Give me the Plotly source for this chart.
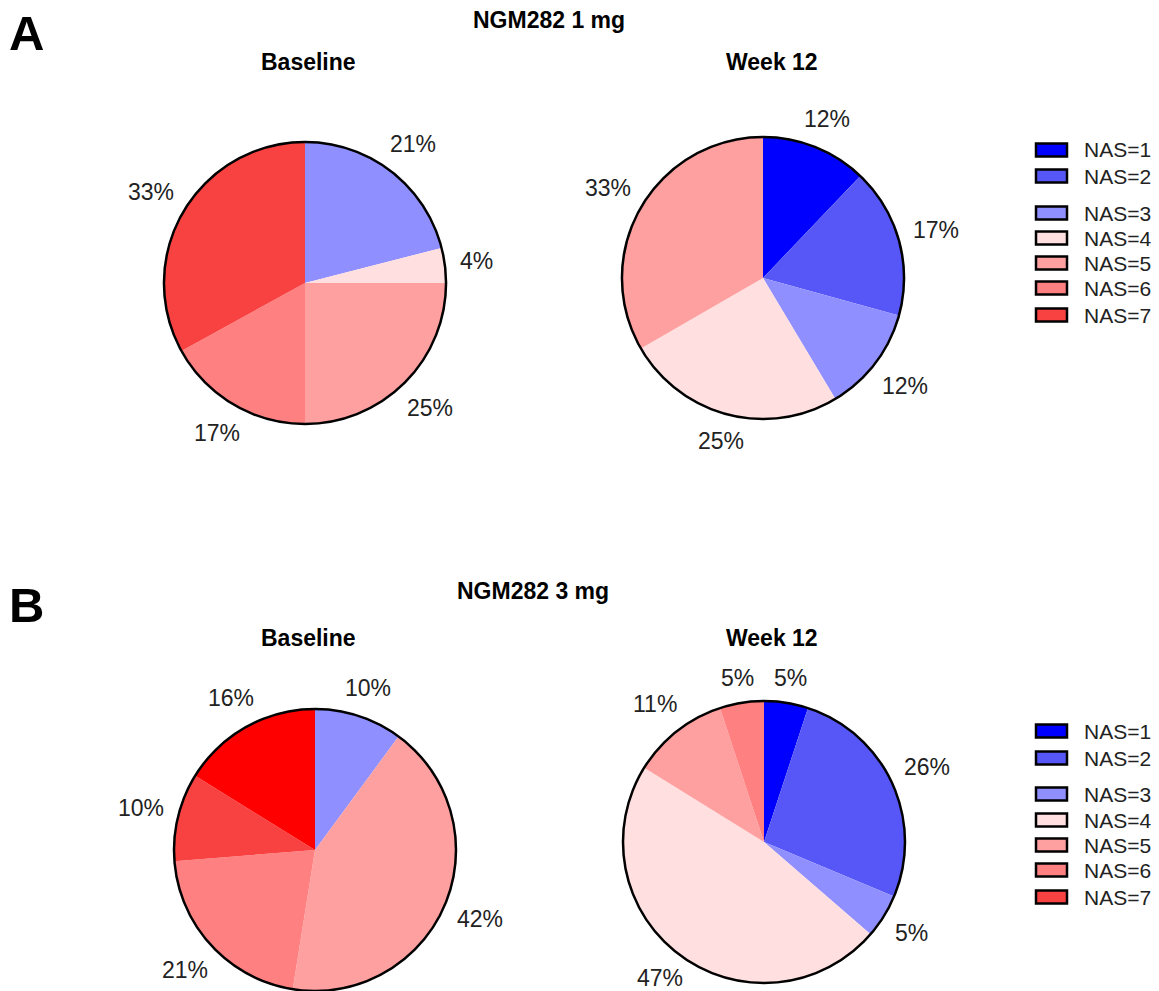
import math
import plotly.graph_objects as go

# NAS score categories and their fill colours
nas_labels = ["NAS=1", "NAS=2", "NAS=3", "NAS=4", "NAS=5", "NAS=6", "NAS=7"]
nas_colors = ["#0000FF", "#5757F8", "#8F8FFF", "#FFDFDF", "#FFA0A0", "#FF8080", "#F84242"]
extra_label = "NAS=8"
extra_color = "#FF0000"
color_of = dict(zip(nas_labels + [extra_label], nas_colors + [extra_color]))

# Distribution of NAS scores (% of patients)
mg1_base_labels = ["NAS=3", "NAS=4", "NAS=5", "NAS=6", "NAS=7"]
mg1_base_pct = [21, 4, 25, 17, 33]

mg1_wk12_labels = ["NAS=1", "NAS=2", "NAS=3", "NAS=4", "NAS=5"]
mg1_wk12_pct = [12, 17, 12, 25, 33]

mg3_base_labels = ["NAS=3", "NAS=5", "NAS=6", "NAS=7", "NAS=8"]
mg3_base_pct = [10, 42, 21, 10, 16]

mg3_wk12_labels = ["NAS=1", "NAS=2", "NAS=3", "NAS=4", "NAS=5", "NAS=6"]
mg3_wk12_pct = [5, 26, 5, 47, 11, 5]

W, H = 1159, 991
FONT = "Liberation Sans, Arial, sans-serif"
LABEL_SIZE = 23


def px_domain(x0, x1, y0, y1):
    """Convert a pixel box (top-left origin) into paper domain fractions."""
    return dict(x=[x0 / W, x1 / W], y=[max(0.0, 1 - y1 / H), 1 - y0 / H])


# pixel boxes holding each pie
panels = [
    (mg1_base_labels, mg1_base_pct, (164, 446, 142, 424)),
    (mg1_wk12_labels, mg1_wk12_pct, (622, 904, 137, 419)),
    (mg3_base_labels, mg3_base_pct, (173, 457, 709, 991)),
    (mg3_wk12_labels, mg3_wk12_pct, (623, 905, 701, 983)),
]

fig = go.Figure()
annotations = []

for labels, pct, box in panels:
    dom = px_domain(*box)
    fig.add_trace(go.Pie(
        labels=labels, values=pct, domain=dom,
        sort=False, direction="clockwise", rotation=0,
        marker=dict(colors=[color_of[l] for l in labels], line=dict(width=0)),
        textinfo="none", showlegend=False, hoverinfo="label+value",
    ))
    # outer rim of the pie
    fig.add_trace(go.Pie(
        values=[1], domain=dom, sort=False,
        marker=dict(colors=["rgba(0,0,0,0)"], line=dict(width=2.5, color="black")),
        textinfo="none", hoverinfo="skip", showlegend=False,
    ))

    # percentage labels set just outside the rim at each slice's mid-angle
    x0, x1, y0, y1 = box
    cx, cy = (x0 + x1) / 2, (y0 + y1) / 2
    r = min(x1 - x0, y1 - y0) / 2
    total = sum(pct)
    cum = 0.0
    for v in pct:
        theta = 2 * math.pi * (cum + v / 2) / total
        cum += v
        dx, dy = math.sin(theta), -math.cos(theta)
        txt = f"{v}%"
        half_w = LABEL_SIZE * (0.556 * (len(txt) - 1) + 0.889) / 2
        half_h = LABEL_SIZE * 0.36
        dist = r + 14 + half_w * abs(dx) + half_h * abs(dy)
        ly = min(cy + dist * dy, H - 13)  # keep bottom labels inside the page
        annotations.append(dict(
            x=(cx + dist * dx) / W, y=1 - ly / H,
            xref="paper", yref="paper", text=txt, showarrow=False,
            xanchor="center", yanchor="middle",
            font=dict(family=FONT, size=LABEL_SIZE, color="#222222"),
        ))


def add_text(x, y, text, size, bold=True, xanchor="center"):
    annotations.append(dict(
        x=x / W, y=1 - y / H, xref="paper", yref="paper", text=f"<b>{text}</b>" if bold else text,
        showarrow=False, xanchor=xanchor, yanchor="middle",
        font=dict(family=FONT, size=size, color="black"),
    ))


# panel letters and titles
add_text(26, 33, "A", 49)
add_text(549, 20, "NGM282 1 mg", 23)
add_text(308, 62, "Baseline", 23)
add_text(772, 62, "Week 12", 23)

add_text(26, 605, "B", 49)
add_text(533, 591, "NGM282 3 mg", 23)
add_text(308, 638, "Baseline", 23)
add_text(772, 638, "Week 12", 23)

# legends (one per panel row)
shapes = []
legend_rows_a = [150, 176, 213, 238, 263, 288, 315]
legend_rows_b = [731, 758, 794, 820, 845, 870, 897]
for rows in (legend_rows_a, legend_rows_b):
    for lab, col, yc in zip(nas_labels, nas_colors, rows):
        shapes.append(dict(
            type="rect", xref="paper", yref="paper",
            x0=1036 / W, x1=1067 / W, y0=1 - (yc + 6.5) / H, y1=1 - (yc - 6.5) / H,
            fillcolor=col, line=dict(color="black", width=2.5),
        ))
        annotations.append(dict(
            x=1082 / W, y=1 - yc / H, xref="paper", yref="paper", text=lab,
            showarrow=False, xanchor="left", yanchor="middle",
            font=dict(family=FONT, size=21, color="#222222"),
        ))

fig.update_layout(
    width=W, height=H,
    margin=dict(l=0, r=0, t=0, b=0),
    paper_bgcolor="white", plot_bgcolor="white",
    annotations=annotations, shapes=shapes,
    showlegend=False,
)

fig.write_html("out.html")
